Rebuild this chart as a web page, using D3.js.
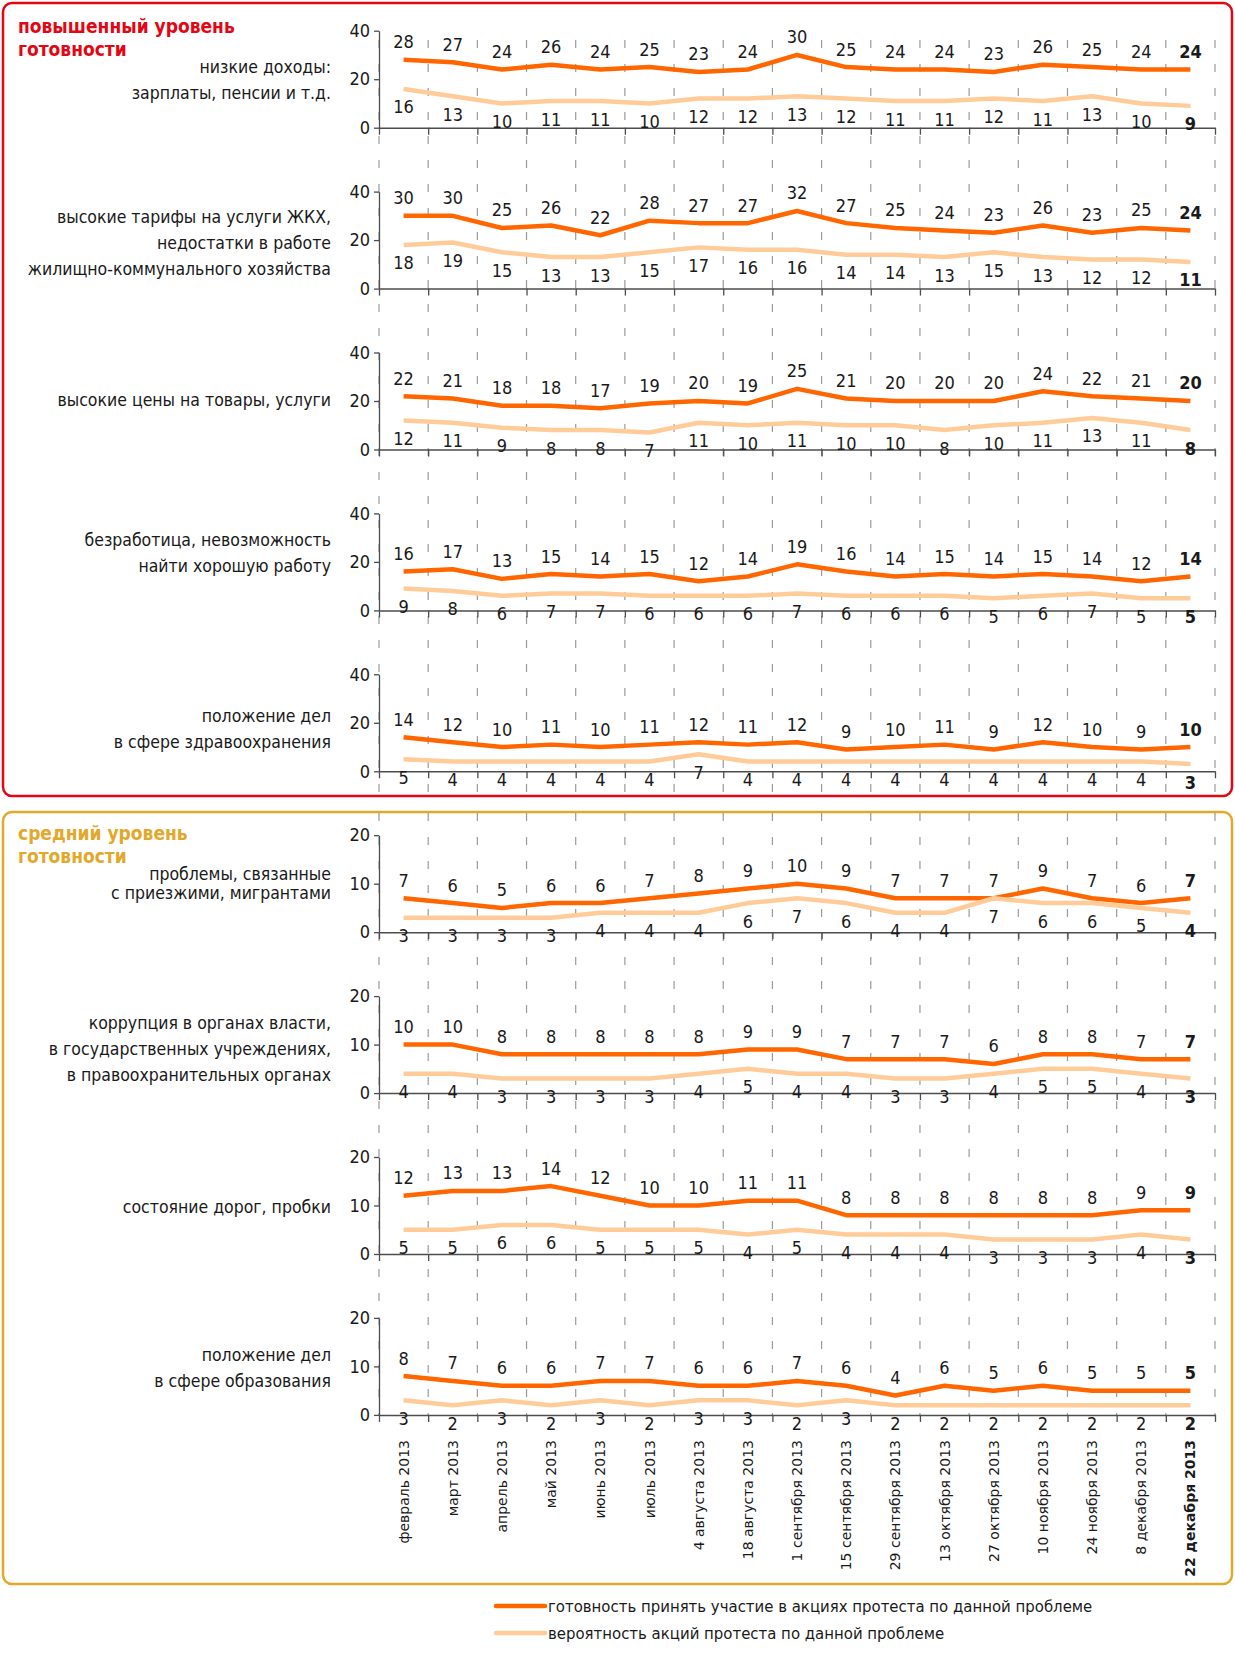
<!DOCTYPE html>
<html lang="ru">
  <head>
    <meta charset="utf-8">
    <title>Готовность к протестам</title>
    <script src="https://cdn.jsdelivr.net/npm/d3@7"></script>
    <style>
      body { margin: 0; background: #fff; }
      svg text { font-family: "DejaVu Sans Condensed", "DejaVu Sans", sans-serif; fill: #1a1a1a; }
    </style>
  </head>
  <body>
    <script>

      /*
      DATA
       */

      const categories = ["февраль 2013", "март 2013", "апрель 2013", "май 2013", "июнь 2013", "июль 2013",
        "4 августа 2013", "18 августа 2013", "1 сентября 2013", "15 сентября 2013", "29 сентября 2013",
        "13 октября 2013", "27 октября 2013", "10 ноября 2013", "24 ноября 2013", "8 декабря 2013", "22 декабря 2013"];

      const ticks_high = [0, 20, 40];
      const ticks_mid = [0, 10, 20];

      const group_titles = [["повышенный уровень", "готовности"], ["средний уровень", "готовности"]];
      const legend_labels = ["готовность принять участие в акциях протеста по данной проблеме",
        "вероятность акций протеста по данной проблеме"];

      const label_income = ["низкие доходы:", "зарплаты, пенсии и т.д."];
      const ready_income = [28, 27, 24, 26, 24, 25, 23, 24, 30, 25, 24, 24, 23, 26, 25, 24, 24];
      const prob_income = [16, 13, 10, 11, 11, 10, 12, 12, 13, 12, 11, 11, 12, 11, 13, 10, 9];

      const label_housing = ["высокие тарифы на услуги ЖКХ,", "недостатки в работе", "жилищно-коммунального хозяйства"];
      const ready_housing = [30, 30, 25, 26, 22, 28, 27, 27, 32, 27, 25, 24, 23, 26, 23, 25, 24];
      const prob_housing = [18, 19, 15, 13, 13, 15, 17, 16, 16, 14, 14, 13, 15, 13, 12, 12, 11];

      const label_prices = ["высокие цены на товары, услуги"];
      const ready_prices = [22, 21, 18, 18, 17, 19, 20, 19, 25, 21, 20, 20, 20, 24, 22, 21, 20];
      const prob_prices = [12, 11, 9, 8, 8, 7, 11, 10, 11, 10, 10, 8, 10, 11, 13, 11, 8];

      const label_jobs = ["безработица, невозможность", "найти хорошую работу"];
      const ready_jobs = [16, 17, 13, 15, 14, 15, 12, 14, 19, 16, 14, 15, 14, 15, 14, 12, 14];
      const prob_jobs = [9, 8, 6, 7, 7, 6, 6, 6, 7, 6, 6, 6, 5, 6, 7, 5, 5];

      const label_health = ["положение дел", "в сфере здравоохранения"];
      const ready_health = [14, 12, 10, 11, 10, 11, 12, 11, 12, 9, 10, 11, 9, 12, 10, 9, 10];
      const prob_health = [5, 4, 4, 4, 4, 4, 7, 4, 4, 4, 4, 4, 4, 4, 4, 4, 3];

      const label_migrants = ["проблемы, связанные", "с приезжими, мигрантами"];
      const ready_migrants = [7, 6, 5, 6, 6, 7, 8, 9, 10, 9, 7, 7, 7, 9, 7, 6, 7];
      const prob_migrants = [3, 3, 3, 3, 4, 4, 4, 6, 7, 6, 4, 4, 7, 6, 6, 5, 4];

      const label_corruption = ["коррупция в органах власти,", "в государственных учреждениях,", "в правоохранительных органах"];
      const ready_corruption = [10, 10, 8, 8, 8, 8, 8, 9, 9, 7, 7, 7, 6, 8, 8, 7, 7];
      const prob_corruption = [4, 4, 3, 3, 3, 3, 4, 5, 4, 4, 3, 3, 4, 5, 5, 4, 3];

      const label_roads = ["состояние дорог, пробки"];
      const ready_roads = [12, 13, 13, 14, 12, 10, 10, 11, 11, 8, 8, 8, 8, 8, 8, 9, 9];
      const prob_roads = [5, 5, 6, 6, 5, 5, 5, 4, 5, 4, 4, 4, 3, 3, 3, 4, 3];

      const label_education = ["положение дел", "в сфере образования"];
      const ready_education = [8, 7, 6, 6, 7, 7, 6, 6, 7, 6, 4, 6, 5, 6, 5, 5, 5];
      const prob_education = [3, 2, 3, 2, 3, 2, 3, 3, 2, 3, 2, 2, 2, 2, 2, 2, 2];

      const panels = [
        {label: label_income, ready: ready_income, prob: prob_income, ticks: ticks_high},
        {label: label_housing, ready: ready_housing, prob: prob_housing, ticks: ticks_high},
        {label: label_prices, ready: ready_prices, prob: prob_prices, ticks: ticks_high},
        {label: label_jobs, ready: ready_jobs, prob: prob_jobs, ticks: ticks_high},
        {label: label_health, ready: ready_health, prob: prob_health, ticks: ticks_high},
        {label: label_migrants, ready: ready_migrants, prob: prob_migrants, ticks: ticks_mid},
        {label: label_corruption, ready: ready_corruption, prob: prob_corruption, ticks: ticks_mid},
        {label: label_roads, ready: ready_roads, prob: prob_roads, ticks: ticks_mid},
        {label: label_education, ready: ready_education, prob: prob_education, ticks: ticks_mid}
      ];

      /*
      LAYOUT
       */

      const WIDTH = 1235;
      const HEIGHT = 1662;

      const PLOT_LEFT = 379;
      const PLOT_RIGHT = 1215;
      const PANEL_TOP = 30.7;
      const PANEL_STEP = 160.9;
      const PANEL_HEIGHT = 97;

      const LABEL_RIGHT = 331;
      const LABEL_MID = [49, 51, 47, 39, 55, 48, 53, 50, 50]; // vertical centre of the label block
      const LABEL_GAP = [26, 26, 26, 26, 26, 19, 26, 26, 26];

      const COLOR_READY = "#ff6600";
      const COLOR_PROB = "#ffcc99";
      const COLOR_RED = "#e30613";
      const COLOR_GOLD = "#e2a82c";
      const COLOR_GRID = "#9a9a9a";
      const COLOR_AXIS = "#4d4d4d";

      const BOXES = [
        {x: 3, y: 3, w: 1229, h: 793, color: COLOR_RED, title_y: 26, grid_top: 40, grid_bottom: 796},
        {x: 3, y: 812, w: 1229, h: 772, color: COLOR_GOLD, title_y: 833, grid_top: 813, grid_bottom: 1416}
      ];

      const CAT_LABEL_TOP = 1440;
      const LEGEND_X1 = 496;
      const LEGEND_X2 = 545;
      const LEGEND_Y = [1606, 1633];

      /*
      SVG
       */

      let svg = d3.select("body").append("svg")
        .attr("width", WIDTH)
        .attr("height", HEIGHT);

      let x = d3.scaleBand().domain(categories).range([PLOT_LEFT, PLOT_RIGHT]);
      let x_edges = d3.scaleLinear().domain([0, categories.length]).range([PLOT_LEFT, PLOT_RIGHT]);
      function cx(c) { return x(c) + x.bandwidth() / 2; }

      // boxes, titles, grid
      BOXES.forEach(function(b, bi) {
        svg.append("rect")
          .attr("x", b.x).attr("y", b.y)
          .attr("width", b.w).attr("height", b.h)
          .attr("rx", 9).attr("ry", 9)
          .attr("fill", "none")
          .attr("stroke", b.color)
          .attr("stroke-width", 2.5);

        let t = svg.append("text")
          .attr("x", 18)
          .attr("font-weight", "bold")
          .attr("font-size", 19)
          .style("fill", b.color);
        group_titles[bi].forEach(function(line, li) {
          t.append("tspan")
            .attr("x", 18)
            .attr("y", b.title_y + li * 23)
            .attr("dy", "0.35em")
            .text(line);
        });

        svg.append("g").selectAll("line")
          .data(d3.range(categories.length + 1))
          .join("line")
          .attr("x1", d => x_edges(d)).attr("x2", d => x_edges(d))
          .attr("y1", b.grid_top).attr("y2", b.grid_bottom)
          .attr("stroke", COLOR_GRID)
          .attr("stroke-width", 1.2)
          .attr("stroke-dasharray", "8,16");
      });

      // panels
      panels.forEach(function(p, i) {
        const top = PANEL_TOP + i * PANEL_STEP;
        const y = d3.scaleLinear()
          .domain([0, p.ticks[p.ticks.length - 1]])
          .range([top + PANEL_HEIGHT, top]);

        let g = svg.append("g");

        let ya = g.append("g")
          .attr("transform", "translate(" + PLOT_LEFT + ",0)")
          .call(d3.axisLeft(y).tickValues(p.ticks).tickSize(5).tickPadding(4).tickSizeOuter(0));
        ya.select(".domain").attr("stroke", COLOR_AXIS).attr("stroke-width", 1.3);
        ya.selectAll(".tick line").attr("stroke", COLOR_AXIS).attr("stroke-width", 1.3);
        ya.selectAll(".tick text")
          .attr("font-size", 18)
          .attr("font-family", null)
          .style("fill", "#1a1a1a");

        let xa = g.append("g")
          .attr("transform", "translate(0," + y(0) + ")")
          .call(d3.axisBottom(x_edges).ticks(categories.length).tickFormat("").tickSize(7).tickSizeOuter(0));
        xa.select(".domain").attr("stroke", COLOR_AXIS).attr("stroke-width", 1.5);
        xa.selectAll(".tick line").attr("stroke", COLOR_AXIS).attr("stroke-width", 1.3);

        const line = d3.line()
          .x((d, k) => cx(categories[k]))
          .y(d => y(d));

        g.append("path")
          .datum(p.ready)
          .attr("d", line)
          .attr("fill", "none")
          .attr("stroke", COLOR_READY)
          .attr("stroke-width", 4.5)
          .attr("stroke-linejoin", "round");

        g.append("path")
          .datum(p.prob)
          .attr("d", line)
          .attr("fill", "none")
          .attr("stroke", COLOR_PROB)
          .attr("stroke-width", 4.5)
          .attr("stroke-linejoin", "round");

        const last = categories.length - 1;

        g.append("g").selectAll("text")
          .data(p.ready)
          .join("text")
          .attr("x", (d, k) => cx(categories[k]))
          .attr("y", d => y(d) - 18)
          .attr("dy", "0.36em")
          .attr("text-anchor", "middle")
          .attr("font-size", 18)
          .attr("font-weight", (d, k) => k === last ? "bold" : null)
          .text(d => d);

        g.append("g").selectAll("text")
          .data(p.prob)
          .join("text")
          .attr("x", (d, k) => cx(categories[k]))
          .attr("y", d => y(d) + 18)
          .attr("dy", "0.36em")
          .attr("text-anchor", "middle")
          .attr("font-size", 18)
          .attr("font-weight", (d, k) => k === last ? "bold" : null)
          .text(d => d);

        // row label
        const n = p.label.length;
        const mid = top + LABEL_MID[i];
        g.append("g").selectAll("text")
          .data(p.label)
          .join("text")
          .attr("x", LABEL_RIGHT)
          .attr("y", (d, k) => mid + (k - (n - 1) / 2) * LABEL_GAP[i])
          .attr("dy", "0.35em")
          .attr("text-anchor", "end")
          .attr("font-size", 17.5)
          .text(d => d);
      });

      // category labels
      svg.append("g").selectAll("text")
        .data(categories)
        .join("text")
        .attr("transform", d => "translate(" + cx(d) + "," + CAT_LABEL_TOP + ") rotate(-90)")
        .attr("dy", "0.36em")
        .attr("text-anchor", "end")
        .attr("font-size", 14)
        .attr("font-weight", (d, k) => k === categories.length - 1 ? "bold" : null)
        .style("font-family", "'DejaVu Sans', sans-serif")
        .text(d => d);

      // legend
      [COLOR_READY, COLOR_PROB].forEach(function(c, i) {
        svg.append("line")
          .attr("x1", LEGEND_X1).attr("x2", LEGEND_X2)
          .attr("y1", LEGEND_Y[i]).attr("y2", LEGEND_Y[i])
          .attr("stroke", c)
          .attr("stroke-width", 4.5)
          .attr("stroke-linecap", "round");
        svg.append("text")
          .attr("x", LEGEND_X2 + 3)
          .attr("y", LEGEND_Y[i])
          .attr("dy", "0.35em")
          .attr("font-size", 16.6)
          .text(legend_labels[i]);
      });

    </script>
  </body>
</html>
